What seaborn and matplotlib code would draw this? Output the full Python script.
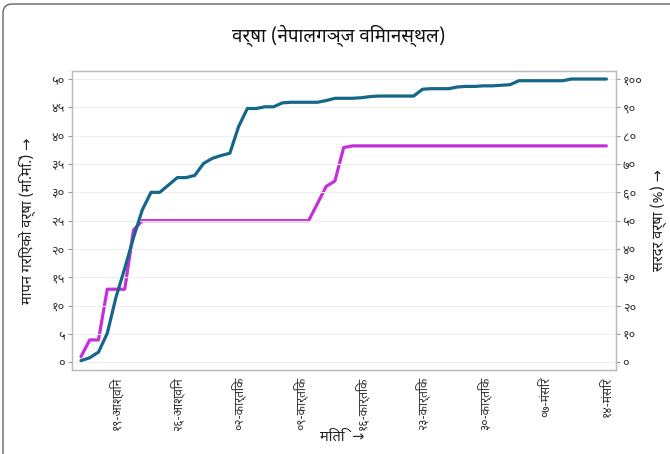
import numpy as np
import pandas as pd
import matplotlib
matplotlib.use('Agg')
import matplotlib.pyplot as plt
from matplotlib.patches import FancyBboxPatch
from matplotlib.transforms import IdentityTransform
import seaborn as sns

# मापन गरिएको वर्षा (मि.मि.) - दैनिक संचित
mapan_varsha = [0.3, 0.8, 1.8, 5.1, 11.5, 16.6, 22.0, 26.9, 30.0, 30.0,
                31.3, 32.6, 32.6, 33.0, 35.1, 36.0, 36.5, 36.9, 41.6, 44.8,
                44.8, 45.1, 45.1, 45.8, 45.9, 45.9, 45.9, 45.9, 46.2, 46.6,
                46.6, 46.6, 46.7, 46.9, 47.0, 47.0, 47.0, 47.0, 47.0, 48.2,
                48.3, 48.3, 48.3, 48.6, 48.7, 48.7, 48.8, 48.8, 48.9, 49.0,
                49.7, 49.7, 49.7, 49.7, 49.7, 49.7, 50.0, 50.0, 50.0, 50.0,
                50.0]

# सरदर वर्षा (%)
sardar_varsha = [2.0, 7.9, 7.9, 25.8, 25.8, 25.8, 46.7, 50.0] + [50.0] * 19 + \
                [56.0, 62.1, 64.0, 75.8] + [76.4] * 30

tick_din = [4, 11, 18, 25, 32, 39, 46, 53, 60]
tick_labels = ['१९-आश्विन', '२६-आश्विन', '०२-कार्तिक', '०९-कार्तिक', '१६-कार्तिक',
               '२३-कार्तिक', '३०-कार्तिक', '०७-मंसिर', '१४-मंसिर']
left_ticks = [0, 5, 10, 15, 20, 25, 30, 35, 40, 45, 50]
left_labels = ['०', '५', '१०', '१५', '२०', '२५', '३०', '३५', '४०', '४५', '५०']
right_ticks = [0, 10, 20, 30, 40, 50, 60, 70, 80, 90, 100]
right_labels = ['०', '१०', '२०', '३०', '४०', '५०', '६०', '७०', '८०', '९०', '१००']

df = pd.DataFrame({'din': range(len(mapan_varsha)),
                   'mapan': mapan_varsha,
                   'sardar': sardar_varsha})

sns.set_style('white')
plt.rcParams['font.family'] = ['Noto Sans Devanagari', 'Noto Sans', 'DejaVu Sans']

fig = plt.figure(figsize=(6.7, 4.54), dpi=100)
ax = fig.add_axes([0.107, 0.185, 0.812, 0.659])
ax2 = ax.twinx()

sns.lineplot(data=df, x='din', y='mapan', ax=ax, color='#146789', linewidth=2.3)
sns.lineplot(data=df, x='din', y='sardar', ax=ax2, color='#c42fd9', linewidth=2.3)
ax.set_zorder(ax2.get_zorder() + 1)
ax.patch.set_visible(False)

ax.set_xlim(-1.06, 61.07)
ax.set_ylim(-1.36, 51.45)
ax2.set_ylim(-2.72, 102.9)

ax.set_xticks(tick_din)
ax.set_xticklabels(tick_labels, rotation=90, fontsize=8.7, color='#333333')
ax.set_yticks(left_ticks)
ax.set_yticklabels(left_labels, fontsize=9.2, color='#333333')
ax2.set_yticks(right_ticks)
ax2.set_yticklabels(right_labels, fontsize=9.2, color='#333333')

ax.grid(axis='y', color='#eeeeee', linewidth=0.8)
ax.set_axisbelow(True)
for a in (ax, ax2):
    a.tick_params(length=3, width=0.8, color='#999999', pad=2)
    for s in a.spines.values():
        s.set_color('#bbbbbb')
        s.set_linewidth(0.9)

ax.set_xlabel('')
ax.set_ylabel('मापन गरिएको वर्षा (मि.मि.) →', fontsize=10.5, color='#222222', labelpad=11)
ax2.set_ylabel('सरदर वर्षा (%) →', fontsize=10.5, color='#222222', labelpad=6)
fig.text(0.51, 0.037, 'मिति  →', ha='center', va='center', fontsize=10.5, color='#222222')

fig.suptitle('वर्षा (नेपालगञ्ज विमानस्थल)', x=0.505, y=0.92, fontsize=13.5,
             fontweight='bold', color='#111111', va='center')

card = FancyBboxPatch((3, -30), 720, 480, boxstyle='round,pad=0,rounding_size=9',
                      transform=IdentityTransform(), facecolor='none',
                      edgecolor='#666666', linewidth=1.0)
fig.patches.append(card)

fig.savefig('out.png', dpi=100)
